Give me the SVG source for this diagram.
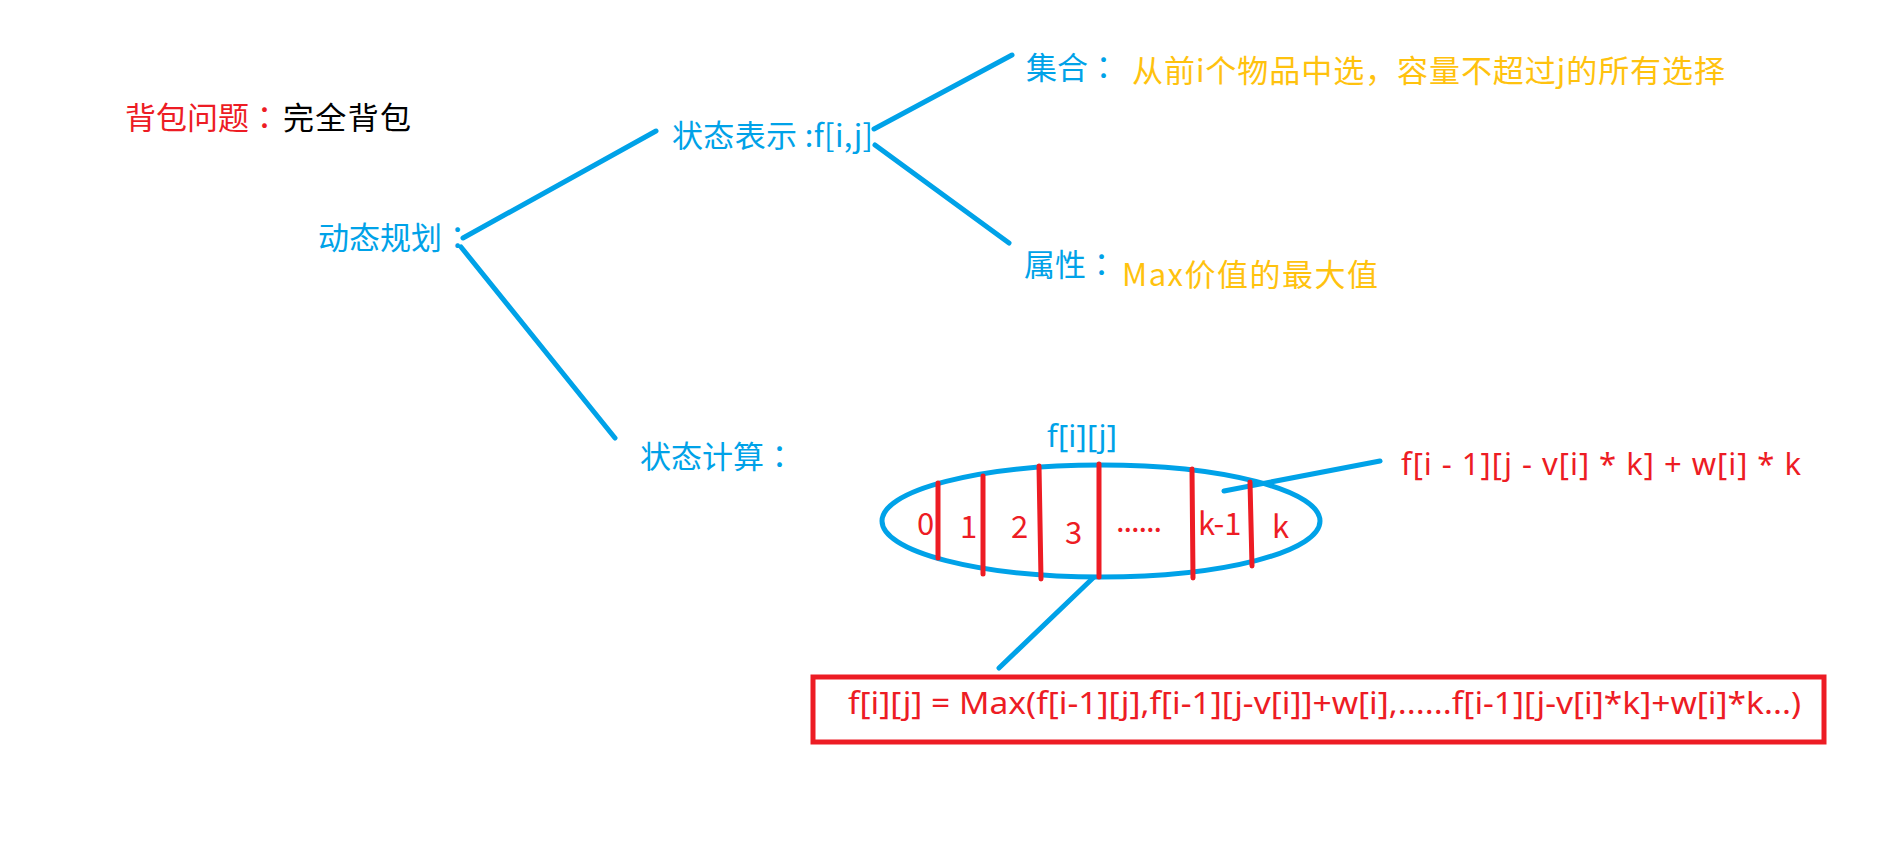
<svg xmlns="http://www.w3.org/2000/svg" width="1900" height="867" viewBox="0 0 1900 867">
<style>
text{font-family:"Noto Sans CJK SC","Microsoft YaHei",sans-serif;font-size:31px}
.p{font-family:"Noto Sans CJK JP",sans-serif}
.b{fill:#00A2E8}.r{fill:#ED1C24}.y{fill:#FFC20E}.k{fill:#000}
.lb{stroke:#00A2E8;stroke-width:5;stroke-linecap:round;fill:none}
.lr{stroke:#ED1C24;stroke-width:5;stroke-linecap:round;fill:none}
.lat{font-family:"Noto Sans","Open Sans",sans-serif}
</style>
<rect width="1900" height="867" fill="#fff"/>
<g id="title">
<text x="125" y="129" class="r">背包问题<tspan class="p">：</tspan></text>
<text x="283" y="129" class="k" textLength="128">完全背包</text>
</g>
<g id="connectors">
<line class="lb" x1="463" y1="238" x2="656" y2="131"/>
<line class="lb" x1="461" y1="247" x2="615" y2="438"/>
<line class="lb" x1="874" y1="129" x2="1012" y2="55"/>
<line class="lb" x1="875" y1="145" x2="1009" y2="243"/>
<line class="lb" x1="1224" y1="491" x2="1380" y2="461"/>
<line class="lb" x1="1093" y1="578" x2="999" y2="668"/>
</g>
<g id="node-dp">
<text x="318" y="249" class="b">动态规划<tspan class="p">：</tspan></text>
</g>
<g id="node-state-rep">
<text x="672" y="147" class="b" textLength="201">状态表示 :f[i,j]</text>
</g>
<g id="node-set">
<text x="1026" y="79" class="b">集合<tspan class="p">：</tspan></text>
<text x="1132" y="82" class="y" textLength="593">从前i个物品中选<tspan class="p">，</tspan>容量不超过j的所有选择</text>
</g>
<g id="node-attr">
<text x="1024" y="276" class="b">属性<tspan class="p">：</tspan></text>
<text x="1122" y="286" class="y" textLength="256">Max价值的最大值</text>
</g>
<g id="node-state-calc">
<text x="640" y="468" class="b">状态计算<tspan class="p">：</tspan></text>
</g>
<g id="node-ellipse">
<text x="1047" y="447" class="b lat" textLength="70">f[i][j]</text>
<ellipse cx="1101" cy="521" rx="219" ry="56" class="lb" stroke-width="4.5"/>
<line class="lr" x1="938" y1="483" x2="938" y2="558"/>
<line class="lr" x1="983" y1="476" x2="983" y2="574"/>
<line class="lr" x1="1039" y1="466" x2="1041" y2="579"/>
<line class="lr" x1="1099" y1="464" x2="1099" y2="577"/>
<line class="lr" x1="1192" y1="469" x2="1193" y2="578"/>
<line class="lr" x1="1250" y1="482" x2="1252" y2="566"/>
<g class="r lat">
<text x="917" y="535">0</text>
<text x="960" y="538">1</text>
<text x="1011" y="538">2</text>
<text x="1065" y="544">3</text>
<text x="1116" y="532" textLength="46">......</text>
<text x="1198" y="535">k-1</text>
<text x="1272" y="538">k</text>
</g>
</g>
<g id="node-term">
<text x="1401" y="475" class="r lat" textLength="400">f[i - 1][j - v[i] * k] + w[i] * k</text>
</g>
<g id="node-formula">
<rect x="813" y="677" width="1011" height="65" fill="none" stroke="#ED1C24" stroke-width="5"/>
<text x="848" y="714" class="r lat" textLength="953" lengthAdjust="spacingAndGlyphs">f[i][j]  = Max(f[i-1][j],f[i-1][j-v[i]]+w[i],......f[i-1][j-v[i]*k]+w[i]*k...)</text>
</g>
</svg>
